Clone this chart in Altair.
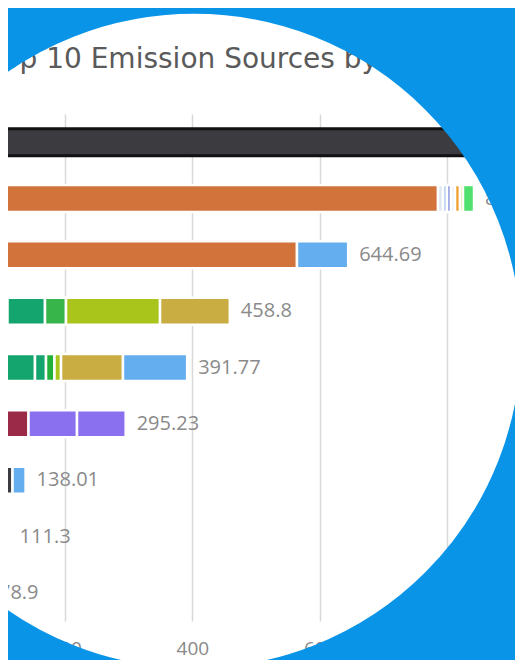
import altair as alt
import pandas as pd

# ---------------- data ----------------
sources = ["Source 1", "Source 2", "Source 3", "Source 4", "Source 5",
           "Source 6", "Source 7", "Source 8", "Source 9"]
totals = [1450.0, 842.33, 644.69, 458.8, 391.77, 295.23, 138.01, 111.3, 78.9]
total_labels = ["1450", "842.33", "644.69", "458.8", "391.77", "295.23", "138.01", "111.3", "78.9"]

seg_source = (["Source 1"]
              + ["Source 2"] * 8
              + ["Source 3"] * 2
              + ["Source 4"] * 5
              + ["Source 5"] * 7
              + ["Source 6"] * 3
              + ["Source 7"] * 2
              + ["Source 8"] * 2
              + ["Source 9"])
seg_type = (["Dark"]
            + ["Orange", "Pale", "Light blue", "Periwinkle", "Whitish", "Amber", "Lime", "Bright lime"]
            + ["Orange", "Blue"]
            + ["Green", "Green", "Green 2", "Yellow green", "Gold"]
            + ["Teal", "Green", "Green", "Bright green", "Yellow green", "Gold", "Blue"]
            + ["Dark red", "Purple", "Purple"]
            + ["Dark", "Blue"]
            + ["Dark red", "Blue"]
            + ["Orange"])
seg_value = ([1450.0]
             + [785.8, 7.85, 6.28, 6.28, 6.28, 7.85, 4.71, 17.28]
             + [564.3, 80.39]
             + [109.6, 58.9, 33.0, 147.7, 109.6]
             + [106.5, 46.3, 17.3, 13.3, 10.3, 97.3, 100.77]
             + [142.6, 76.2, 76.43]
             + [117.5, 20.51]
             + [94.0, 17.3]
             + [78.9])
seg_order = ([0]
             + list(range(8))
             + list(range(2))
             + list(range(5))
             + list(range(7))
             + list(range(3))
             + list(range(2))
             + list(range(2))
             + [0])

type_names = ["Dark", "Orange", "Pale", "Light blue", "Periwinkle", "Whitish", "Amber",
              "Lime", "Bright lime", "Blue", "Teal", "Green", "Green 2", "Bright green",
              "Yellow green", "Gold", "Dark red", "Purple"]
type_colors = ["#3b3b40", "#d2733c", "#dde6f0", "#a9c8ee", "#7d8ce0", "#eef2f8", "#f0a030",
               "#c8e050", "#4fe06e", "#64aef0", "#14a090", "#13a56d", "#38b54a", "#22b03a",
               "#a9c41b", "#c9ad42", "#9b2a48", "#8a70ee"]

axis_values = [200, 400, 600, 800]
title_text = "Top 10 Emission Sources by Sector"

seg_df = pd.DataFrame({"source": seg_source, "type": seg_type,
                       "value": seg_value, "order": seg_order})
lab_df = pd.DataFrame({"source": sources, "total": totals, "label": total_labels})

# ---------------- scales / axes ----------------
x_scale = alt.Scale(domain=[110.4, 906.7], nice=False, zero=False)
y_scale = alt.Scale(paddingInner=0.52, paddingOuter=0.26)
x_axis = alt.Axis(values=axis_values, grid=True, gridColor="#d9d9d9", gridWidth=1.5,
                  domain=False, ticks=False, tickSize=0, labelPadding=18,
                  labelFont="Open Sans", labelFontSize=19, labelColor="#888888",
                  title=None)

bars = alt.Chart(seg_df).mark_bar(clip=True).encode(
    x=alt.X("value:Q", stack="zero", scale=x_scale, axis=x_axis),
    y=alt.Y("source:N", sort=sources, scale=y_scale, axis=None),
    color=alt.Color("type:N", scale=alt.Scale(domain=type_names, range=type_colors), legend=None),
    order=alt.Order("order:Q"),
    stroke=alt.condition(alt.datum.source == sources[0], alt.value("#111111"), alt.value("white")),
    strokeWidth=alt.condition(alt.datum.source == sources[0], alt.value(3), alt.value(2.5)),
)

labels = alt.Chart(lab_df).mark_text(
    align="left", baseline="middle", dx=11, font="Open Sans", fontSize=20, color="#8a8a8a"
).encode(
    x=alt.X("total:Q", scale=x_scale, axis=x_axis),
    y=alt.Y("source:N", sort=sources, scale=y_scale, axis=None),
    text="label:N",
)

title = alt.Chart(pd.DataFrame({"t": [title_text]})).mark_text(
    align="left", baseline="alphabetic", font="DejaVu Sans", fontSize=28, color="#5a5a5a"
).encode(x=alt.value(-18), y=alt.value(-46), text="t:N")

mask = alt.Chart(pd.DataFrame({"m": [0]})).mark_point(
    shape="circle", filled=False, opacity=1
).encode(
    x=alt.value(186), y=alt.value(227),
    size=alt.value(729316),
    stroke=alt.value("#0994e8"),
    strokeWidth=alt.value(200),
)

chart = alt.layer(bars, labels, title, mask).properties(
    width=507, height=507,
    padding={"left": 0, "top": 106, "right": 0, "bottom": 39},
    autosize=alt.AutoSizeParams(type="none"),
    background="white",
).configure_view(stroke=None)

chart.save("out.html", embed_options={"renderer": "svg", "actions": False})
